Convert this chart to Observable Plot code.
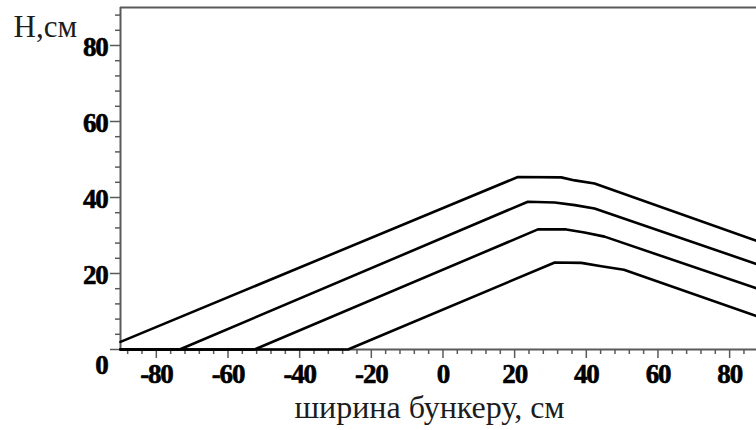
<!DOCTYPE html>
<html>
<head>
<meta charset="utf-8">
<script src="https://cdn.jsdelivr.net/npm/d3@7"></script>
<script src="https://cdn.jsdelivr.net/npm/@observablehq/plot@0.6"></script>
<style>
  html, body { margin: 0; padding: 0; background: #fff; overflow: hidden; }
  #chart { width: 756px; height: 430px; }
  /* tightly set bold tick numerals */
  #chart g[aria-label$="tick label"] text { letter-spacing: -1.2px; }
</style>
</head>
<body>
<div id="chart"></div>
<script>
// Surface profiles of the bulk material across the hopper width (cm)
const x1 = [-90, 20.9, 33.0, 36.8, 42.3, 87.5];
const h1 = [2.0, 45.4, 45.3, 44.5, 43.7, 28.6];

const x2 = [-90, -73.5, 23.7, 31.2, 36.8, 42.3, 87.5];
const h2 = [0, 0, 38.9, 38.7, 38.0, 37.1, 22.5];

const x3 = [-90, -52.6, 26.5, 34.4, 39.5, 45.1, 87.5];
const h3 = [0, 0, 31.6, 31.6, 30.8, 29.7, 16.1];

const x4 = [-90, -26.5, 31.2, 38.6, 44.2, 50.5, 87.5];
const h4 = [0, 0, 22.9, 22.8, 21.9, 21.0, 8.8];

// Axis ticks
const xMajor = [-80, -60, -40, -20, 0, 20, 40, 60, 80];
const xMinor = d3.range(-88, 88, 4).filter(v => v % 20 !== 0);
const yMajor = [0, 20, 40, 60, 80];
const yLabels = [20, 40, 60, 80];
const yMinor = d3.range(4, 90, 4).filter(v => v % 20 !== 0);

const xTitle = "ширина бункеру, см";
const yTitle = "H,см";

const profiles = [[x1, h1], [x2, h2], [x3, h3], [x4, h4]].flatMap(([xs, hs], i) =>
  xs.map((x, j) => ({series: i + 1, x, h: hs[j]}))
);

const frameColor = "#5a5a5a";

const chart = Plot.plot({
  width: 756,
  height: 430,
  marginLeft: 120,
  marginRight: 0,
  marginTop: 7,
  marginBottom: 81,
  x: {domain: [-90, 87.5]},
  y: {domain: [0, 90]},
  style: {
    fontFamily: "'Liberation Serif', 'Times New Roman', serif",
    fontSize: "27px",
    fontWeight: "bold",
    color: "#111",
    background: "#fff"
  },
  marks: [
    // frame: top border, left border and the zero line
    Plot.ruleY([90], {stroke: frameColor, strokeWidth: 2}),
    Plot.ruleX([-90], {stroke: frameColor, strokeWidth: 2}),
    Plot.ruleY([0], {stroke: frameColor, strokeWidth: 2}),

    // y ticks and labels
    Plot.axisY({ticks: yMajor, tickSize: 10, stroke: frameColor, strokeWidth: 1.5, fill: "none", label: null}),
    Plot.axisY({ticks: yMinor, tickSize: 5, stroke: frameColor, strokeWidth: 1.5, fill: "none", label: null}),
    Plot.axisY({ticks: yLabels, tickSize: 0, tickPadding: 13, dy: 2, tickFormat: d => String(d), label: null,
      fill: "#000", textStroke: "#000", textStrokeWidth: 0.6}),
    Plot.axisY({ticks: [0], tickSize: 0, tickPadding: 13, dy: 16, tickFormat: d => String(d), label: null,
      fill: "#000", textStroke: "#000", textStrokeWidth: 0.6}),

    // x ticks and labels
    Plot.axisX({ticks: xMajor, tickSize: 9, stroke: frameColor, strokeWidth: 1.5, fill: "none", label: null}),
    Plot.axisX({ticks: xMinor, tickSize: 5, stroke: frameColor, strokeWidth: 1.5, fill: "none", label: null}),
    Plot.axisX({ticks: xMajor, tickSize: 0, tickPadding: 14, tickFormat: d => String(d), label: null,
      fill: "#000", textStroke: "#000", textStrokeWidth: 0.6}),

    // profiles
    Plot.line(profiles, {x: "x", y: "h", z: "series", stroke: "#000", strokeWidth: 2.6, curve: "linear"}),

    // titles
    Plot.text([yTitle], {
      frameAnchor: "top-left", dx: -107, dy: 7, lineAnchor: "top", textAnchor: "start",
      fontSize: 31, fontWeight: "normal", fill: "#1c1c1c"
    }),
    Plot.text([xTitle], {
      frameAnchor: "bottom", dx: -9, dy: 46, lineAnchor: "top",
      fontSize: 32, fontWeight: "normal", fill: "#1c1c1c"
    })
  ]
});

document.getElementById("chart").append(chart);
</script>
</body>
</html>
